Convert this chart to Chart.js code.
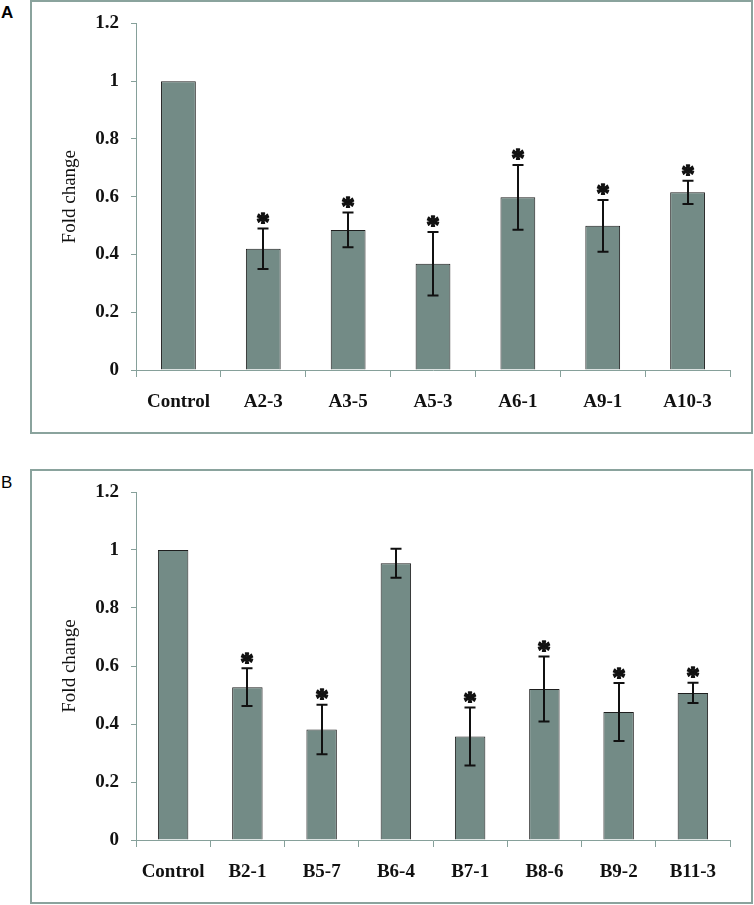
<!DOCTYPE html>
<html>
<head>
<meta charset="utf-8">
<script src="https://cdn.jsdelivr.net/npm/chart.js@4/dist/chart.umd.min.js"></script>
<style>
  html, body { margin: 0; padding: 0; background: #fff; }
  body { width: 754px; height: 905px; position: relative; overflow: hidden; }
  .box { position: absolute; border: 2px solid #8aa39d; box-sizing: border-box; }
  .lbl { position: absolute; font-family: 'Liberation Sans', Arial, sans-serif; color: #000; line-height: 1; }
  .cv { position: absolute; left: 0; }
</style>
</head>
<body>
<div class="box" style="left:30px; top:0px; width:723px; height:434px;"></div>
<div class="box" style="left:30px; top:469px; width:723px; height:435px;"></div>
<div class="lbl" style="left:1px; top:4px; font-size:17px; font-weight:bold;">A</div>
<div class="lbl" style="left:1px; top:474px; font-size:17px;">B</div>
<div class="cv" style="top:0px; width:754px; height:440px;"><canvas id="cA" width="754" height="440"></canvas></div>
<div class="cv" style="top:460px; width:754px; height:445px;"><canvas id="cB" width="754" height="445"></canvas></div>
<script>
// Panel A data
const categoriesA = ['Control', 'A2-3', 'A3-5', 'A5-3', 'A6-1', 'A9-1', 'A10-3'];
const valuesA = [1.0, 0.42, 0.485, 0.368, 0.598, 0.499, 0.615];
const errorsA = [0, 0.07, 0.06, 0.11, 0.112, 0.09, 0.04];
const starsA = [false, true, true, true, true, true, true];

// Panel B data
const categoriesB = ['Control', 'B2-1', 'B5-7', 'B6-4', 'B7-1', 'B8-6', 'B9-2', 'B11-3'];
const valuesB = [1.0, 0.527, 0.381, 0.954, 0.357, 0.521, 0.441, 0.507];
const errorsB = [0, 0.065, 0.085, 0.05, 0.1, 0.112, 0.1, 0.035];
const starsB = [false, true, true, false, true, true, true, true];

const yTicks = [0, 0.2, 0.4, 0.6, 0.8, 1, 1.2];
const yTitle = 'Fold change';

const axisColor = '#86a09a';
const barFill = '#738b86';
const barEdge = '#1e1e1e';
const serif = "'Liberation Serif', 'Times New Roman', serif";

const errorStarPlugin = {
  id: 'errorStar',
  afterDatasetsDraw(chart, args, opts) {
    const ctx = chart.ctx;
    const meta = chart.getDatasetMeta(0);
    const ys = chart.scales.y;
    ctx.save();
    ctx.strokeStyle = '#111';
    ctx.fillStyle = '#111';
    meta.data.forEach((bar, i) => {
      const v = opts.values[i], e = opts.errors[i];
      const x = Math.round(bar.x);
      let capTop = ys.getPixelForValue(v);
      if (e > 0) {
        const yt = ys.getPixelForValue(v + e);
        const yb = ys.getPixelForValue(v - e);
        capTop = yt;
        ctx.lineWidth = 2;
        ctx.beginPath();
        ctx.moveTo(x, yt); ctx.lineTo(x, yb);
        ctx.moveTo(x - 5.5, yt); ctx.lineTo(x + 5.5, yt);
        ctx.moveTo(x - 5.5, yb); ctx.lineTo(x + 5.5, yb);
        ctx.stroke();
      }
      if (opts.stars[i]) {
        ctx.font = 'bold 27px ' + serif;
        const m = ctx.measureText('*');
        const asc = m.actualBoundingBoxAscent, desc = m.actualBoundingBoxDescent;
        const cy = capTop - 10;
        ctx.textAlign = 'center';
        ctx.textBaseline = 'alphabetic';
        ctx.lineWidth = 1.3;
        ctx.lineJoin = 'round';
        const ty = cy + (asc - desc) / 2;
        ctx.fillText('*', x, ty);
        ctx.strokeText('*', x, ty);
      }
    });
    ctx.restore();
  }
};

function makeChart(id, cats, vals, errs, stars, xAxisHeight, padTop) {
  return new Chart(document.getElementById(id), {
    type: 'bar',
    data: {
      labels: cats,
      datasets: [{
        data: vals,
        backgroundColor: barFill,
        borderColor: barEdge,
        borderWidth: 1,
        categoryPercentage: 1.0,
        barPercentage: 0.41
      }]
    },
    options: {
      responsive: false,
      animation: false,
      devicePixelRatio: 1,
      layout: { padding: { left: 0, right: 24, top: padTop, bottom: 0 } },
      plugins: {
        legend: { display: false },
        tooltip: { enabled: false },
        errorStar: { values: vals, errors: errs, stars: stars }
      },
      scales: {
        x: {
          offset: true,
          grid: { offset: true, drawOnChartArea: false, drawTicks: true, tickLength: 7, color: axisColor, lineWidth: 1 },
          border: { display: true, color: axisColor, width: 1 },
          ticks: { color: '#111', font: { family: serif, size: 19, weight: 'bold' }, padding: 14, maxRotation: 0, autoSkip: false },
          afterFit(scale) { scale.height = xAxisHeight; }
        },
        y: {
          min: 0, max: 1.2,
          afterBuildTicks(scale) { scale.ticks = yTicks.map(v => ({ value: v })); },
          grid: { drawOnChartArea: false, drawTicks: true, tickLength: 5, color: axisColor, lineWidth: 1 },
          border: { display: true, color: axisColor, width: 1 },
          ticks: {
            color: '#111', font: { family: serif, size: 19, weight: 'bold' }, padding: 12,
            callback: (v) => String(Number(Number(v).toFixed(1)))
          },
          title: { display: true, text: yTitle, color: '#111', font: { family: serif, size: 19, weight: 'normal' }, padding: { top: 59, bottom: 0 } },
          afterFit(scale) { scale.width = 136; }
        }
      }
    },
    plugins: [errorStarPlugin]
  });
}

makeChart('cA', categoriesA, valuesA, errorsA, starsA, 70, 23);
makeChart('cB', categoriesB, valuesB, errorsB, starsB, 65, 32);
</script>
</body>
</html>
